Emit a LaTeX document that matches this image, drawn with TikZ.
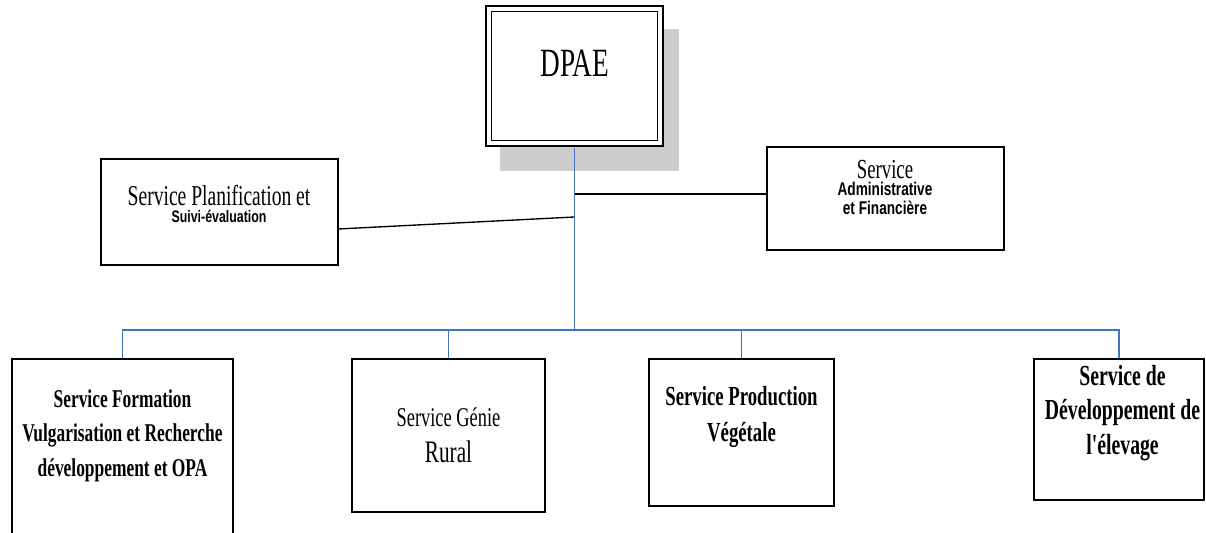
\documentclass[tikz,border=0pt]{standalone}
\usepackage{fontspec}
\setmainfont{Liberation Serif}[FakeStretch=0.68]
\newfontfamily\narrowsf{Liberation Sans}[FakeStretch=0.74]
\usetikzlibrary{positioning}

\definecolor{linkblue}{RGB}{68,114,196}
\definecolor{shadowgray}{RGB}{204,204,204}

\tikzset{
	unitbox/.style={draw, line width=0.65pt, inner sep=0pt},
	headbox/.style={draw, fill=white, double, double distance=1.6pt, line width=0.7pt, inner sep=0pt},
	unittext/.style={align=center, inner sep=0pt},
	busline/.style={draw=linkblue, line width=0.55pt},
	linkline/.style={draw=black, line width=0.55pt}
}

\begin{document}
\begin{tikzpicture}

        \useasboundingbox (0,0) rectangle (17.229,7.614);
        \clip (0,0) rectangle (17.229,7.614);

        % head
        \fill[shadowgray] (7.143,5.171) rectangle (9.7,7.2);
        \node[headbox, minimum width=2.454cm, minimum height=1.926cm] (dpae) at (8.207,6.529) {};
        \node[unittext, font=\fontsize{16.3}{18}\selectfont] (dpaetxt) at (8.214,6.714) {DPAE};

        % staff services
        \node[unitbox, minimum width=3.386cm, minimum height=1.514cm] (plan) at (3.136,4.586) {};
        \node[unittext, font=\fontsize{11.7}{12}\selectfont] (plantxt) at (3.129,4.7)
            {Service Planification et\\[-5pt]{\narrowsf\bfseries\fontsize{6.8}{8}\selectfont Suivi-évaluation}};

        \node[unitbox, minimum width=3.386cm, minimum height=1.471cm] (admin) at (12.65,4.779) {};
        \node[unittext, font=\fontsize{11.2}{12}\selectfont] (admintxt) at (12.643,4.936)
            {Service\\[-5pt]{\narrowsf\bfseries\fontsize{7.5}{8}\selectfont Administrative}\\[-4.3pt]{\narrowsf\bfseries\fontsize{7.5}{8}\selectfont et Financière}};

        % line services
        \node[unitbox, minimum width=3.157cm, minimum height=3.443cm] (form) at (1.75,0.764) {};
        \node[unittext, font=\bfseries\fontsize{10.4}{14}\selectfont] (formtxt) at (1.75,1.393)
            {Service Formation\\Vulgarisation et Recherche\\développement et OPA};

        \node[unitbox, minimum width=2.757cm, minimum height=2.186cm] (genie) at (6.407,1.393) {};
        \node[unittext, font=\fontsize{11}{14.6}\selectfont] (genietxt) at (6.407,1.4)
            {Service Génie\\{\fontsize{12.7}{14}\selectfont Rural}};

        \node[unitbox, minimum width=2.643cm, minimum height=2.1cm] (prod) at (10.593,1.436) {};
        \node[unittext, font=\bfseries\fontsize{11.2}{14.6}\selectfont] (prodtxt) at (10.593,1.657)
            {Service Production\\Végétale};

        \node[unitbox, minimum width=2.429cm, minimum height=2.014cm] (elev) at (15.986,1.479) {};
        \node[unittext, font=\bfseries\fontsize{11.8}{14}\selectfont] (elevtxt) at (16.036,1.714)
            {Service de\\Développement de\\l\textquotesingle\kern-1pt élevage};

        % links
        \coordinate (jr) at (8.207,4.843);
        \coordinate (jl) at (8.207,4.514);
        \coordinate (jb) at (8.207,2.9);
        \draw[linkline] (jr) -- (jr -| admin.west);
        \draw[linkline] ([yshift=-0.243cm]plan.east) -- (jl);

        \draw[busline] ([yshift=-1.45pt]dpae.south) -- (jb);
        \draw[busline] (form.north) |- (jb) -| (elev.north);
        \draw[busline] (genie.north) -- (genie.north |- jb);
        \draw[busline] (prod.north) -- (prod.north |- jb);

\end{tikzpicture}
\end{document}
